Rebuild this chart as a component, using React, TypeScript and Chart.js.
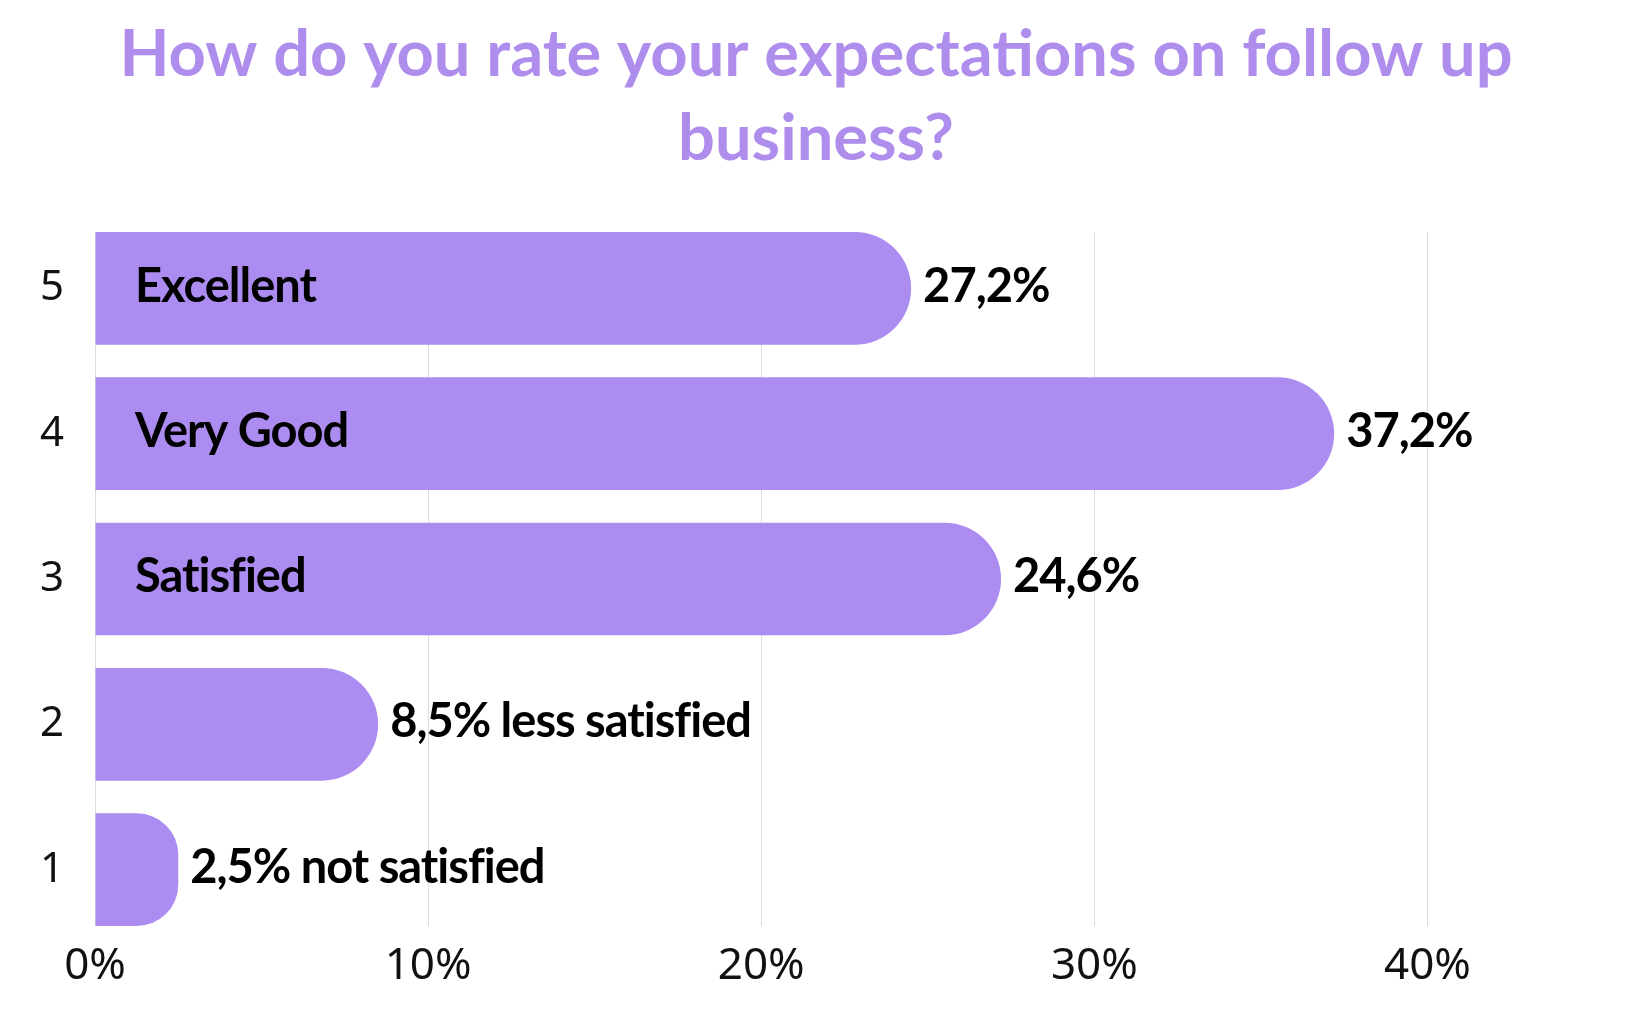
import React, { useEffect, useRef } from "react";
import { Chart, registerables } from "chart.js";

Chart.register(...registerables);

// ---- data ----
const ratings: number[] = [5, 4, 3, 2, 1];
const barValues: number[] = [24.5, 37.2, 27.2, 8.5, 2.5];
const insideLabels: string[] = ["Excellent", "Very Good", "Satisfied", "", ""];
const valueLabels: string[] = ["27,2%", "37,2%", "24,6%", "8,5% less satisfied", "2,5% not satisfied"];
const xTicks: number[] = [0, 10, 20, 30, 40];
const titleLines: string[] = ["How do you rate your expectations on follow up", "business?"];

const PURPLE = "#ad8cf1";
const TITLE_PURPLE = "#ae8ded";
const LABEL_FONT = 'Lato, "Liberation Sans", sans-serif';
const TICK_FONT = '"Noto Sans", "Open Sans", sans-serif';

const Y_MIN = 0.612;
const Y_MAX = 5.388;

const barLabelPlugin = {
  id: "barLabels",
  afterDatasetsDraw(chart: any) {
    const ctx = chart.ctx;
    const meta = chart.getDatasetMeta(0);
    const area = chart.chartArea;
    ctx.save();
    ctx.fillStyle = "#000";
    ctx.textBaseline = "middle";
    ctx.font = `bold 47px ${LABEL_FONT}`;
    try {
      (ctx as any).letterSpacing = "-1px";
    } catch (e) {}
    meta.data.forEach((el: any, i: number) => {
      const y = el.y - 2;
      ctx.textAlign = "left";
      if (insideLabels[i]) {
        ctx.fillText(insideLabels[i], area.left + 40, y);
      }
      ctx.fillText(valueLabels[i], el.x + 12, y);
    });
    ctx.restore();
  },
};

export default function App() {
  const canvasRef = useRef<HTMLCanvasElement | null>(null);

  useEffect(() => {
    if (!canvasRef.current) return;
    const chart = new Chart(canvasRef.current, {
      type: "bar",
      data: {
        datasets: [
          {
            data: ratings.map((r, i) => ({ x: barValues[i], y: r })),
            backgroundColor: PURPLE,
            borderWidth: 0,
            borderRadius: 200,
            borderSkipped: "start",
            barPercentage: 0.7756,
            categoryPercentage: 1,
          } as any,
        ],
      },
      options: {
        indexAxis: "y",
        responsive: false,
        animation: false,
        devicePixelRatio: 1,
        layout: { padding: { left: 38, right: 31, top: 0, bottom: 0 } },
        plugins: {
          legend: { display: false },
          tooltip: { enabled: false },
          title: {
            display: true,
            text: titleLines,
            color: TITLE_PURPLE,
            font: { family: 'Lato, "Open Sans", sans-serif', size: 65, weight: "bold", lineHeight: 1.3 },
            padding: { top: 12.5, bottom: 50.5 },
          },
        },
        scales: {
          x: {
            type: "linear",
            min: 0,
            max: 45,
            afterBuildTicks: (axis: any) => {
              axis.ticks = xTicks.map((v) => ({ value: v }));
            },
            afterFit: (scale: any) => {
              scale.height = 94;
            },
            grid: { color: "#dcdcdc", lineWidth: 1, drawTicks: false },
            border: { display: false },
            ticks: {
              padding: 14,
              color: "#111",
              font: { family: TICK_FONT, size: 44, weight: "normal" },
              callback: (v: any) => `${v}%`,
            },
          },
          y: {
            type: "linear",
            offset: false,
            bounds: "data",
            beginAtZero: false,
            min: Y_MIN,
            max: Y_MAX,
            afterDataLimits: (axis: any) => {
              axis.min = Y_MIN;
              axis.max = Y_MAX;
            },
            afterBuildTicks: (axis: any) => {
              axis.ticks = ratings.map((v) => ({ value: v }));
              axis.min = Y_MIN;
              axis.max = Y_MAX;
            },
            afterFit: (scale: any) => {
              scale.width = 57;
            },
            grid: { display: false, drawTicks: false, offset: false },
            border: { display: false },
            ticks: {
              padding: 31,
              color: "#111",
              font: { family: TICK_FONT, size: 42, weight: "normal" },
              callback: (v: any) => String(v),
            },
          },
        },
      } as any,
      plugins: [barLabelPlugin],
    });
    return () => chart.destroy();
  }, []);

  return (
    <div style={{ position: "absolute", left: 0, top: 0, width: 1625, height: 1020, background: "#fff" }}>
      <canvas ref={canvasRef} width={1625} height={1020} style={{ display: "block" }} />
    </div>
  );
}
